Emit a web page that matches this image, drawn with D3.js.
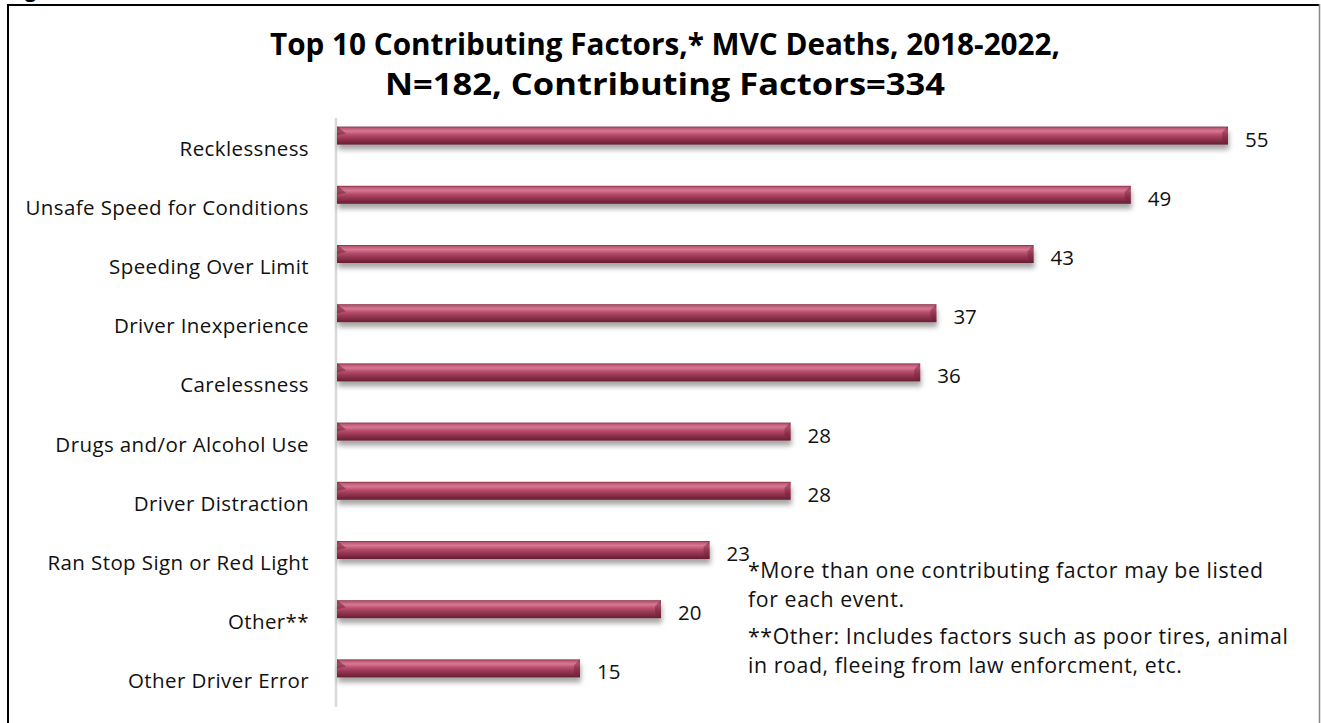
<!DOCTYPE html>
<html>
<head>
<meta charset="utf-8">
<script src="https://cdn.jsdelivr.net/npm/d3@7/dist/d3.min.js"></script>
<style>
  body { margin: 0; background: #fff; }
  svg { display: block; }
</style>
</head>
<body>
<svg id="chart" width="1321" height="723"></svg>
<script>
const categories = [
  "Recklessness",
  "Unsafe Speed for Conditions",
  "Speeding Over Limit",
  "Driver Inexperience",
  "Carelessness",
  "Drugs and/or Alcohol Use",
  "Driver Distraction",
  "Ran Stop Sign or Red Light",
  "Other**",
  "Other Driver Error"
];
const values = [55, 49, 43, 37, 36, 28, 28, 23, 20, 15];
const titleLines = [
  "Top 10 Contributing Factors,* MVC Deaths, 2018-2022,",
  "N=182, Contributing Factors=334"
];
const noteLines = [
  "*More than one contributing factor may be listed",
  "for each event.",
  "**Other: Includes factors such as poor tires, animal",
  "in road, fleeing from law enforcment, etc."
];

const svg = d3.select("#chart");
const W = 1321, H = 723;
const bodyFont = "'Open Sans', 'Noto Sans', sans-serif";

// defs
const defs = svg.append("defs");
const grad = defs.append("linearGradient")
  .attr("id", "barGrad").attr("x1", 0).attr("y1", 0).attr("x2", 0).attr("y2", 1);
[
  [0, "#7e2a42"], [0.08, "#bd5874"], [0.25, "#d87893"], [0.45, "#b84e6d"],
  [0.65, "#9a3756"], [0.85, "#7c2940"], [1, "#651d32"]
].forEach(([o, c]) => grad.append("stop").attr("offset", o).attr("stop-color", c));
const f = defs.append("filter").attr("id", "shadow")
  .attr("x", "-5%").attr("y", "-50%").attr("width", "110%").attr("height", "250%");
f.append("feDropShadow").attr("dx", 1).attr("dy", 5).attr("stdDeviation", 2.4)
  .attr("flood-color", "#000").attr("flood-opacity", 0.35);

// frame
svg.append("text").attr("x", 8).attr("y", -3)
  .attr("font-family", bodyFont).attr("font-weight", "bold").attr("font-size", 20)
  .text("Figure");
svg.append("line").attr("x1", 7).attr("x2", 1320).attr("y1", 5).attr("y2", 5)
  .attr("stroke", "#000").attr("stroke-width", 2);
svg.append("line").attr("x1", 8).attr("x2", 8).attr("y1", 4).attr("y2", H)
  .attr("stroke", "#000").attr("stroke-width", 2);
svg.append("line").attr("x1", 1319.5).attr("x2", 1319.5).attr("y1", 4).attr("y2", H)
  .attr("stroke", "#888").attr("stroke-width", 1.5);

// title
const titleY = [43, 83];
const titleW = [790, 560];
titleLines.forEach((t, i) => {
  svg.append("text")
    .attr("x", 665).attr("y", titleY[i])
    .attr("text-anchor", "middle").attr("dominant-baseline", "central")
    .attr("font-family", "'Open Sans', 'Noto Sans', sans-serif")
    .attr("font-weight", "bold").attr("font-size", 31)
    .attr("textLength", titleW[i]).attr("lengthAdjust", "spacingAndGlyphs")
    .attr("fill", "#000")
    .text(t);
});

// scales
const x = d3.scaleLinear().domain([0, 55]).range([337, 1228]);
const y = d3.scaleBand().domain(categories).range([118, 710]);
const barH = 18;
const barOff = -21;

// axis line
svg.append("line").attr("x1", 336).attr("x2", 336).attr("y1", 118).attr("y2", 707)
  .attr("stroke", "#d9d9d9").attr("stroke-width", 2.5);

// category labels
svg.append("g").selectAll("text").data(categories).join("text")
  .attr("x", 309)
  .attr("y", d => y(d) + y.bandwidth() / 2)
  .attr("text-anchor", "end").attr("dominant-baseline", "central")
  .attr("font-family", bodyFont).attr("font-size", 20.5)
  .attr("letter-spacing", 0.4).attr("fill", "#111")
  .text(d => d);

// bars
const data = categories.map((c, i) => ({ c, v: values[i] }));
const bars = svg.append("g").selectAll("g").data(data).join("g");
bars.append("rect")
  .attr("x", x(0))
  .attr("y", d => y(d.c) + y.bandwidth() / 2 + barOff)
  .attr("width", d => x(d.v) - x(0))
  .attr("height", barH)
  .attr("fill", "url(#barGrad)")
  .attr("filter", "url(#shadow)");
// bevels
bars.append("path")
  .attr("d", d => {
    const t = y(d.c) + y.bandwidth() / 2 + barOff, x0 = x(0);
    return `M${x0},${t} L${x0 + 9},${t + 7} L${x0},${t + 9} Z`;
  })
  .attr("fill", "#6e2238").attr("opacity", 0.55);
bars.append("path")
  .attr("d", d => {
    const t = y(d.c) + y.bandwidth() / 2 + barOff, xe = x(d.v);
    return `M${xe},${t} L${xe},${t + barH} L${xe - 6},${t + barH - 5} L${xe - 6},${t + 6} Z`;
  })
  .attr("fill", "#6e2238").attr("opacity", 0.45);

// value labels
svg.append("g").selectAll("text").data(data).join("text")
  .attr("x", d => x(d.v) + 17)
  .attr("y", d => y(d.c) + y.bandwidth() / 2 + barOff + barH / 2 + 3)
  .attr("dominant-baseline", "central")
  .attr("font-family", bodyFont).attr("font-size", 20.5).attr("fill", "#111")
  .text(d => d.v);

// note
const noteY = [569, 598, 635, 664];
noteLines.forEach((t, i) => {
  svg.append("text")
    .attr("x", 748).attr("y", noteY[i])
    .attr("dominant-baseline", "central")
    .attr("font-family", bodyFont).attr("font-size", 21.3)
    .attr("letter-spacing", 0.6).attr("fill", "#111")
    .text(t);
});
</script>
</body>
</html>
